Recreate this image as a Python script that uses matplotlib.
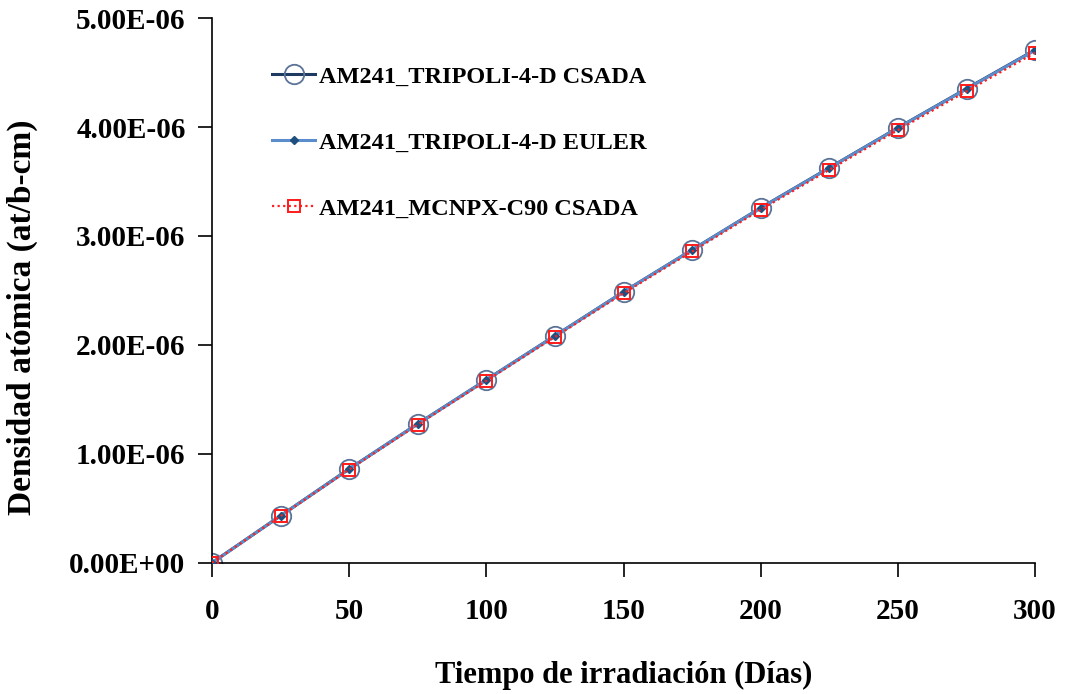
import matplotlib.pyplot as plt
from matplotlib.ticker import FuncFormatter

# Tiempo de irradiación (días) y densidad atómica de Am-241 (at/b-cm)
dias = [0, 25, 50, 75, 100, 125, 150, 175, 200, 225, 250, 275, 300]
tripoli_csada = [0.0, 0.432e-6, 0.862e-6, 1.276e-6, 1.680e-6, 2.084e-6, 2.487e-6,
                 2.873e-6, 3.258e-6, 3.626e-6, 3.993e-6, 4.352e-6, 4.708e-6]
tripoli_euler = [0.0, 0.431e-6, 0.861e-6, 1.275e-6, 1.679e-6, 2.083e-6, 2.486e-6,
                 2.872e-6, 3.256e-6, 3.624e-6, 3.991e-6, 4.349e-6, 4.705e-6]
mcnpx_csada = [0.0, 0.428e-6, 0.856e-6, 1.268e-6, 1.671e-6, 2.073e-6, 2.474e-6,
               2.858e-6, 3.241e-6, 3.607e-6, 3.972e-6, 4.328e-6, 4.682e-6]

plt.rcParams['font.family'] = ['Liberation Serif', 'DejaVu Serif']
plt.rcParams['font.weight'] = 'bold'

fig = plt.figure(figsize=(10.65, 6.94), dpi=100)
ax = fig.add_axes([0.199, 0.189, 0.773, 0.785])

ax.plot(dias, tripoli_csada, color='#1f3a60', linewidth=2.2, marker='o',
        markersize=14, markerfacecolor='none', markeredgecolor='#5a7397',
        markeredgewidth=1.3, label='AM241_TRIPOLI-4-D CSADA', zorder=2)
ax.plot(dias, tripoli_euler, color='#5b8ccc', linewidth=2.2, marker='D',
        markersize=4, markerfacecolor='#1f4f7e', markeredgecolor='#1f4f7e',
        label='AM241_TRIPOLI-4-D EULER', zorder=3)
ax.plot(dias, mcnpx_csada, color='#ff2020', linewidth=1.6, linestyle=(0, (1, 1.5)),
        marker='s', markersize=8.5, markerfacecolor='none', markeredgecolor='#ff1a1a',
        markeredgewidth=1.4, label='AM241_MCNPX-C90 CSADA', zorder=4)

ax.set_xlim(0, 300)
ax.set_ylim(0, 5e-6)
ax.set_xticks(range(0, 301, 50))
ax.set_yticks([i * 1e-6 for i in range(6)])
ax.yaxis.set_major_formatter(FuncFormatter(
    lambda v, p: '%.2fE%+03d' % (v / 1e-6, -6) if v > 0 else '0.00E+00'))

for side in ['top', 'right']:
    ax.spines[side].set_visible(False)
for side in ['left', 'bottom']:
    ax.spines[side].set_linewidth(1.2)
ax.tick_params(direction='out', length=10, width=1.2, labelsize=21)
ax.tick_params(axis='x', pad=15)
ax.tick_params(axis='y', pad=9)
for lbl in ax.get_xticklabels() + ax.get_yticklabels():
    lbl.set_fontweight('bold')

ax.set_xlabel('Tiempo de irradiación (Días)', fontsize=22, fontweight='bold')
ax.xaxis.set_label_coords(0.5, -0.18)
ax.set_ylabel('Densidad atómica (at/b-cm)', fontsize=24, fontweight='bold')
ax.yaxis.set_label_coords(-0.211, 0.45)

ax.legend(loc='upper left', bbox_to_anchor=(0.073, 0.912), frameon=False,
          borderpad=0, borderaxespad=0, labelspacing=1.8, handlelength=1.77,
          handletextpad=0.15, prop={'weight': 'bold', 'size': 17.5})

fig.savefig('out.png', dpi=100)
